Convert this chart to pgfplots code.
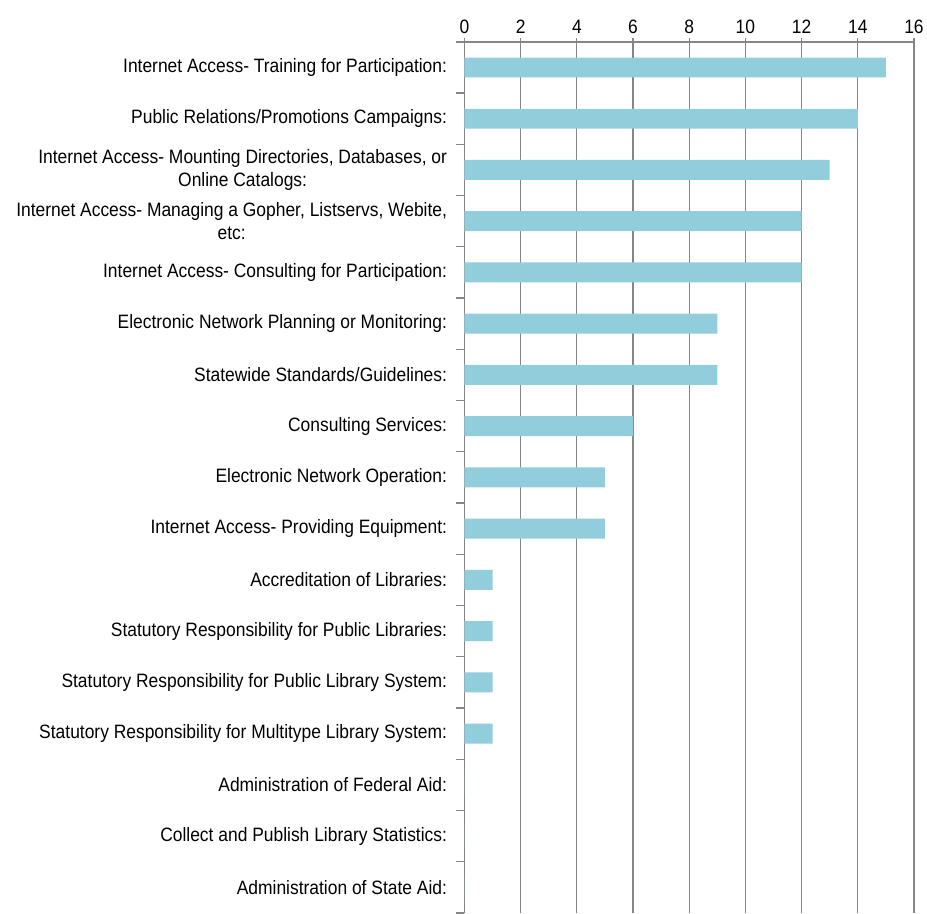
\documentclass[border=0pt]{standalone}
\usepackage{fontspec}
\setmainfont{Liberation Sans}[FakeStretch=0.9]
\usepackage{pgfplots}
\pgfplotsset{compat=1.18}
\definecolor{barblue}{RGB}{146,205,220}
\definecolor{gridgray}{RGB}{134,134,134}
\begin{document}
\begin{tikzpicture}
\path (-466bp,0) rectangle (461bp,916bp);
\begin{axis}[
  at={(0,0)}, anchor=south west,
  scale only axis,
  width=451bp, height=874bp,
  xmin=0, xmax=16,
  ymin=-0.5, ymax=16.5,
  xtick={0,2,...,16},
  axis x line*=top,
  axis y line*=left,
  axis line style={gridgray, line width=1.3pt},
  xmajorgrids,
  major grid style={gridgray, line width=1.3pt},
  x tick style={gridgray, line width=1.3pt},
  major tick length=4bp,
  xtick align=outside,
  ytick={0,...,16},
  minor ytick={-0.5,0.5,...,16.5},
  y tick style={draw=none},
  minor y tick style={draw=gridgray, line width=1.3pt},
  minor tick length=8bp,
  ytick align=outside,
  yticklabels={
    {Administration of State Aid:},
    {Collect and Publish Library Statistics:},
    {Administration of Federal Aid:},
    {Statutory Responsibility for Multitype Library System:},
    {Statutory Responsibility for Public Library System:},
    {Statutory Responsibility for Public Libraries:},
    {Accreditation of Libraries:},
    {Internet Access- Providing Equipment:},
    {Electronic Network Operation:},
    {Consulting Services:},
    {Statewide Standards/Guidelines:},
    {Electronic Network Planning or Monitoring:},
    {Internet Access- Consulting for Participation:},
    {Internet Access- Managing a Gopher, Listservs, Webite,\\ etc:},
    {Internet Access- Mounting Directories, Databases, or\\ Online Catalogs:},
    {Public Relations/Promotions Campaigns:},
    {Internet Access- Training for Participation:}
  },
  yticklabel style={align=center, font=\fontsize{19.5}{22.5}\selectfont, xshift=-10bp},
  xticklabel style={font=\fontsize{19.5}{22}\selectfont, yshift=1bp},
  /pgf/number format/assume math mode=true,
  xbar, bar width=20bp,
]
\addplot[fill=barblue, draw=none] coordinates {
  (0,0) (0,1) (0,2) (1,3) (1,4) (1,5) (1,6) (5,7) (5,8) (6,9)
  (9,10) (9,11) (12,12) (12,13) (13,14) (14,15) (15,16)
};
\end{axis}
\end{tikzpicture}
\end{document}
